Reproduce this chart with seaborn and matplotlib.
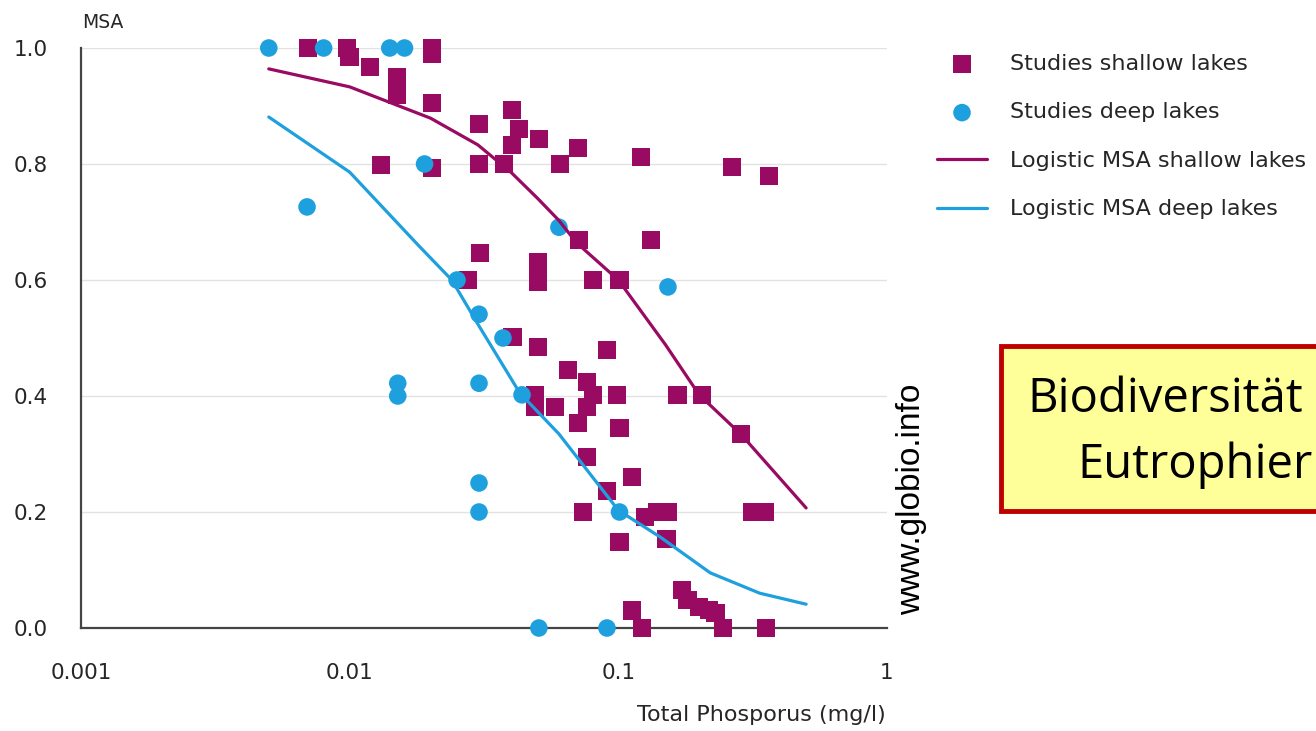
import matplotlib
matplotlib.use("Agg")
import matplotlib.pyplot as plt
import seaborn as sns
from matplotlib.patches import Rectangle
from matplotlib.ticker import FixedLocator, NullLocator

# Data
shallow_x = [0.007, 0.0098, 0.0100, 0.0119, 0.015, 0.015, 0.0203, 0.0203, 0.0203,
             0.0303, 0.0131, 0.0203, 0.0303, 0.0375, 0.0402, 0.0427, 0.0402, 0.0506,
             0.0707, 0.0606, 0.1214, 0.265, 0.363, 0.0712, 0.132, 0.0306, 0.0276,
             0.0502, 0.0502, 0.0502, 0.0805, 0.101, 0.0404, 0.0502, 0.0907, 0.0649,
             0.0764, 0.0805, 0.0764, 0.0707, 0.0988, 0.101, 0.0489, 0.049, 0.0581,
             0.166, 0.205, 0.286, 0.0764, 0.1124, 0.0907, 0.0738, 0.1256, 0.140,
             0.153, 0.151, 0.101, 0.314, 0.351, 0.173, 0.181, 0.200, 0.218, 0.230,
             0.1124, 0.1224, 0.2456, 0.354]
shallow_y = [1.0, 1.0, 0.985, 0.967, 0.95, 0.92, 1.0, 0.99, 0.905,
             0.869, 0.798, 0.793, 0.80, 0.80, 0.893, 0.86, 0.833, 0.843,
             0.828, 0.80, 0.812, 0.795, 0.779, 0.669, 0.669, 0.647, 0.60,
             0.631, 0.612, 0.597, 0.60, 0.60, 0.502, 0.484, 0.479, 0.445,
             0.424, 0.402, 0.381, 0.353, 0.402, 0.345, 0.402, 0.381, 0.381,
             0.402, 0.402, 0.334, 0.295, 0.26, 0.236, 0.20, 0.191, 0.20,
             0.20, 0.153, 0.148, 0.20, 0.20, 0.066, 0.048, 0.036, 0.031, 0.026,
             0.03, 0.0, 0.0, 0.0]

deep_x = [0.005, 0.008, 0.0141, 0.016, 0.019, 0.00694, 0.0601, 0.0251, 0.0303,
          0.0372, 0.0151, 0.0151, 0.0303, 0.0303, 0.0303, 0.153, 0.0438, 0.101,
          0.0506, 0.0907]
deep_y = [1.0, 1.0, 1.0, 1.0, 0.80, 0.726, 0.691, 0.60, 0.541,
          0.50, 0.422, 0.40, 0.422, 0.25, 0.20, 0.588, 0.402, 0.20,
          0.0, 0.0]

shallow_fit_x = [0.005, 0.01, 0.02, 0.03, 0.04, 0.05, 0.06, 0.07, 0.1, 0.15, 0.2, 0.286, 0.5]
shallow_fit_y = [0.964, 0.933, 0.879, 0.833, 0.785, 0.741, 0.703, 0.664, 0.60, 0.488, 0.402, 0.334, 0.207]

deep_fit_x = [0.005, 0.01, 0.018, 0.024, 0.03, 0.043, 0.06, 0.1, 0.143, 0.22, 0.336, 0.5]
deep_fit_y = [0.881, 0.786, 0.66, 0.60, 0.524, 0.405, 0.335, 0.203, 0.157, 0.095, 0.06, 0.041]

x_ticks = [0.001, 0.01, 0.1, 1]
x_tick_labels = ["0.001", "0.01", "0.1", "1"]
y_ticks = [0.0, 0.2, 0.4, 0.6, 0.8, 1.0]
y_tick_labels = ["0.0", "0.2", "0.4", "0.6", "0.8", "1.0"]
y_minor = [0.1, 0.3, 0.5, 0.7, 0.9]

PURPLE = "#990a62"
BLUE = "#1ea0de"
TXT = "#262626"

sns.set_style("white")
plt.rcParams["font.family"] = ["DejaVu Sans"]

W, H = 1316, 731
fig = plt.figure(figsize=(W / 100, H / 100), dpi=100)
ax = fig.add_axes([81 / W, 1 - 628 / H, (887 - 81) / W, (628 - 48) / H])

sns.scatterplot(x=shallow_x, y=shallow_y, marker="s", s=175, color=PURPLE,
                edgecolor="none", linewidth=0, label="Studies shallow lakes",
                ax=ax, clip_on=False, zorder=3)
sns.scatterplot(x=deep_x, y=deep_y, marker="o", s=160, color=BLUE,
                edgecolor="none", linewidth=0, label="Studies deep lakes",
                ax=ax, clip_on=False, zorder=4)
sns.lineplot(x=shallow_fit_x, y=shallow_fit_y, color=PURPLE, lw=2.3,
             estimator=None, sort=False, label="Logistic MSA shallow lakes",
             ax=ax, zorder=5)
sns.lineplot(x=deep_fit_x, y=deep_fit_y, color=BLUE, lw=2.3,
             estimator=None, sort=False, label="Logistic MSA deep lakes",
             ax=ax, zorder=5)

ax.set_xscale("log")
ax.set_xlim(0.001, 1)
ax.set_ylim(0, 1)
ax.xaxis.set_major_locator(FixedLocator(x_ticks))
ax.xaxis.set_minor_locator(NullLocator())
ax.set_xticklabels(x_tick_labels)
ax.set_yticks(y_ticks)
ax.set_yticklabels(y_tick_labels)
ax.yaxis.set_minor_locator(FixedLocator(y_minor))

ax.tick_params(axis="y", which="major", direction="out", length=13, width=1.1,
               color="#555555", pad=11, labelsize=15.5, labelcolor=TXT)
ax.tick_params(axis="y", which="minor", direction="out", length=6, width=1.0,
               color="#555555")
ax.tick_params(axis="x", which="major", direction="out", length=11, width=1.1,
               color="#555555", pad=14, labelsize=15.5, labelcolor=TXT)

ax.yaxis.grid(True, which="major", color="#e2e2e2", lw=1.0)
ax.xaxis.grid(False)
ax.set_axisbelow(True)
for side in ["top", "right"]:
    ax.spines[side].set_visible(False)
for side in ["left", "bottom"]:
    ax.spines[side].set_color("#444444")
    ax.spines[side].set_linewidth(1.6)

ax.set_xlabel("")
ax.set_ylabel("")
fig.text(82 / W, 1 - 22 / H, "MSA", fontsize=13.5, color=TXT, ha="left", va="center")
fig.text(886 / W, 1 - 715 / H, "Total Phosporus (mg/l)", fontsize=16, color=TXT,
         ha="right", va="center")

leg = ax.legend(loc="upper left", bbox_to_anchor=(937 / W, 1 - 54 / H),
                bbox_transform=fig.transFigure, frameon=False, fontsize=16,
                handlelength=2.25, handletextpad=1.05, labelspacing=1.28,
                borderpad=0, borderaxespad=0)
for t in leg.get_texts():
    t.set_color(TXT)

fig.text(912 / W, 1 - 615 / H, "www.globio.info", rotation=90, fontsize=24,
         family=["Liberation Sans", "DejaVu Sans"], color="black",
         ha="center", va="bottom")

box = Rectangle((1001 / W, 1 - 511 / H), 400 / W, 165 / H, transform=fig.transFigure,
                facecolor="#ffff99", edgecolor="#c00000", linewidth=3.5, zorder=1)
fig.add_artist(box)
fig.text(1027 / W, 1 - 412 / H, "Biodiversität", fontsize=34,
         family=["Open Sans", "DejaVu Sans"], color="black", ha="left",
         va="baseline", zorder=2)
fig.text(1077 / W, 1 - 478 / H, "Eutrophierung", fontsize=34,
         family=["Open Sans", "DejaVu Sans"], color="black", ha="left",
         va="baseline", zorder=2)

fig.savefig("out.png", dpi=100)
